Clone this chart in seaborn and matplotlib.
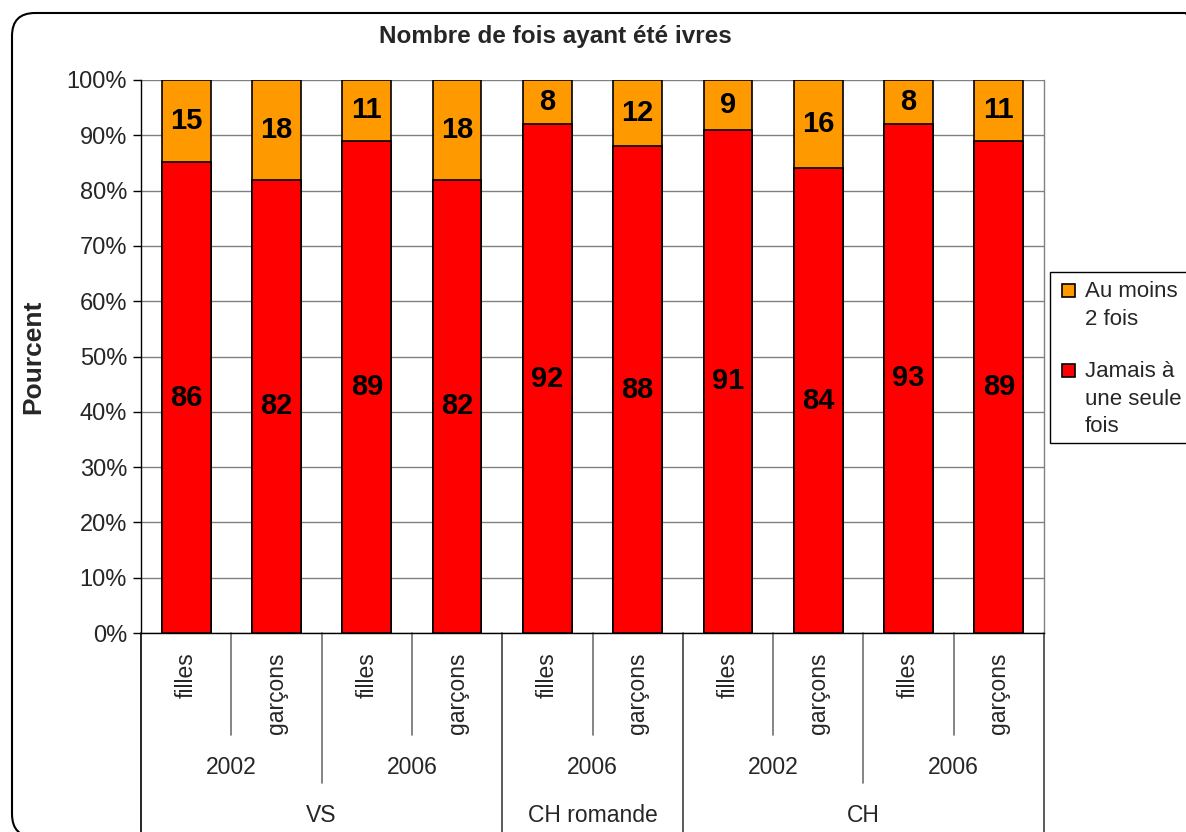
import numpy as np
import pandas as pd
import matplotlib
matplotlib.use("Agg")
import matplotlib.pyplot as plt
import matplotlib.transforms as mtransforms
from matplotlib.patches import FancyBboxPatch, Rectangle
import seaborn as sns

# --- data -------------------------------------------------------------
regions = ["VS", "VS", "VS", "VS", "CH romande", "CH romande", "CH", "CH", "CH", "CH"]
years = ["2002", "2002", "2006", "2006", "2006", "2006", "2002", "2002", "2006", "2006"]
sexes = ["filles", "garçons", "filles", "garçons", "filles", "garçons",
         "filles", "garçons", "filles", "garçons"]
au_moins_2 = [15, 18, 11, 18, 8, 12, 9, 16, 8, 11]
jamais_1 = [86, 82, 89, 82, 92, 88, 91, 84, 93, 89]

series_names = ["Au moins\n2 fois", "Jamais à\nune seule\nfois"]
series_colors = ["#FF9900", "#FF0000"]
title = "Nombre de fois ayant été ivres"
ylabel = "Pourcent"
yticks = list(range(0, 101, 10))

# --- setup ------------------------------------------------------------
sns.set_style("white")
plt.rcParams["font.family"] = ["Liberation Sans", "DejaVu Sans"]

W, H, DPI = 1186, 832, 100
fig = plt.figure(figsize=(W / DPI, H / DPI), dpi=DPI)
fig.patch.set_facecolor("white")


def fy(px):
    """Figure fraction for a pixel row measured from the top."""
    return (H - px) / H


ax_left, ax_right, ax_top, ax_bottom = 141, 1044, 80, 633
ax = fig.add_axes([ax_left / W, fy(ax_bottom), (ax_right - ax_left) / W,
                   (ax_bottom - ax_top) / H])

df = pd.DataFrame({
    "key": [f"{r} {y} {s}" for r, y, s in zip(regions, years, sexes)],
    "orange": au_moins_2,
    "red": jamais_1,
})
df["total"] = df["orange"] + df["red"]
df["red_pct"] = df["red"] / df["total"] * 100
df["full"] = 100.0
order = list(df["key"])

# 100% stacked columns: full-height top series, bottom series drawn over it
sns.barplot(data=df, x="key", y="full", order=order, color=series_colors[0],
            saturation=1, width=0.54, edgecolor="black", linewidth=1.2, ax=ax,
            zorder=3)
sns.barplot(data=df, x="key", y="red_pct", order=order, color=series_colors[1],
            saturation=1, width=0.54, edgecolor="black", linewidth=1.2, ax=ax,
            zorder=3)

# value labels centred in each segment
for i, row in df.iterrows():
    ax.text(i, row["red_pct"] / 2, f"{row['red']}", ha="center", va="center",
            fontsize=21, fontweight="bold", color="black", zorder=5)
    ax.text(i, row["red_pct"] + (100 - row["red_pct"]) / 2, f"{row['orange']}",
            ha="center", va="center", fontsize=21, fontweight="bold",
            color="black", zorder=5)

ax.set_xlim(-0.5, len(order) - 0.5)
ax.set_ylim(0, 100)
ax.set_yticks(yticks)
ax.set_yticklabels([f"{t}%" for t in yticks], fontsize=17)
ax.yaxis.grid(True, color="#808080", linewidth=1)
ax.set_axisbelow(True)
ax.tick_params(axis="y", direction="out", length=6, width=1, color="black",
               left=True, pad=4)
ax.tick_params(axis="x", length=0, labelbottom=False)
ax.set_xlabel("")
ax.set_ylabel("")
ax.spines["top"].set_visible(False)
ax.spines["right"].set_color("#808080")
ax.spines["left"].set_color("black")
ax.spines["bottom"].set_color("black")
for sp in ax.spines.values():
    sp.set_linewidth(1)

# --- hierarchical category axis --------------------------------------
trans = mtransforms.blended_transform_factory(ax.transData, fig.transFigure)
n = len(order)
y_short, y_mid, y_long = 735, 783, 845

# boundary lines
bounds = [(-0.5, y_long, "black")]
for k in range(n - 1):
    if regions[k] != regions[k + 1]:
        bounds.append((k + 0.5, y_long, "#404040"))
    elif years[k] != years[k + 1]:
        bounds.append((k + 0.5, y_mid, "#707070"))
    else:
        bounds.append((k + 0.5, y_short, "#707070"))
bounds.append((n - 0.5, y_long, "#404040"))
for x, yend, c in bounds:
    ax.plot([x, x], [fy(ax_bottom), fy(yend)], color=c, lw=1.2,
            transform=trans, clip_on=False)

# level 1: sex, rotated
for i, s in enumerate(sexes):
    ax.text(i, fy(652), s, rotation=90, ha="center", va="top", fontsize=16.5,
            transform=trans)


def runs(labels, parents=None):
    out = []
    start = 0
    for k in range(1, len(labels) + 1):
        end_run = k == len(labels) or labels[k] != labels[start] or (
            parents is not None and parents[k] != parents[start])
        if end_run:
            out.append((start, k - 1, labels[start]))
            start = k
    return out


for a, b, lab in runs(years, regions):
    ax.text((a + b) / 2, fy(767), lab, ha="center", va="center",
            fontsize=16.5, transform=trans)
for a, b, lab in runs(regions):
    ax.text((a + b) / 2, fy(815), lab, ha="center", va="center",
            fontsize=16.5, transform=trans)

# --- titles -------------------------------------------------------------
fig.text(555 / W, fy(37), title, ha="center", va="center", fontsize=17.5,
         fontweight="bold")
fig.text(33 / W, fy(357), ylabel, ha="center", va="center", rotation=90,
         fontsize=19, fontweight="bold")

# --- legend -------------------------------------------------------------
ident = mtransforms.IdentityTransform()
fig.patches.append(Rectangle((1050, H - 443), 200, 171, transform=ident,
                             facecolor="white", edgecolor="black", lw=1))
legend_rows = [(290, series_names[0], series_colors[0]),
               (370, series_names[1], series_colors[1])]
for ytop, lab, col in legend_rows:
    fig.patches.append(Rectangle((1062, H - ytop - 7), 13, 13, transform=ident,
                                 facecolor=col, edgecolor="black", lw=1.2))
    fig.text(1085 / W, fy(ytop - 9), lab, ha="left", va="top", fontsize=16,
             linespacing=1.42)

# --- chart frame with rounded corners -----------------------------------
frame = FancyBboxPatch((12, -5), 1208 - 12, (H - 13) + 5,
                       boxstyle="round,pad=0,rounding_size=23",
                       transform=ident, facecolor="none", edgecolor="black",
                       lw=1.5)
fig.patches.append(frame)

fig.savefig("out.png", dpi=DPI, facecolor="white")
